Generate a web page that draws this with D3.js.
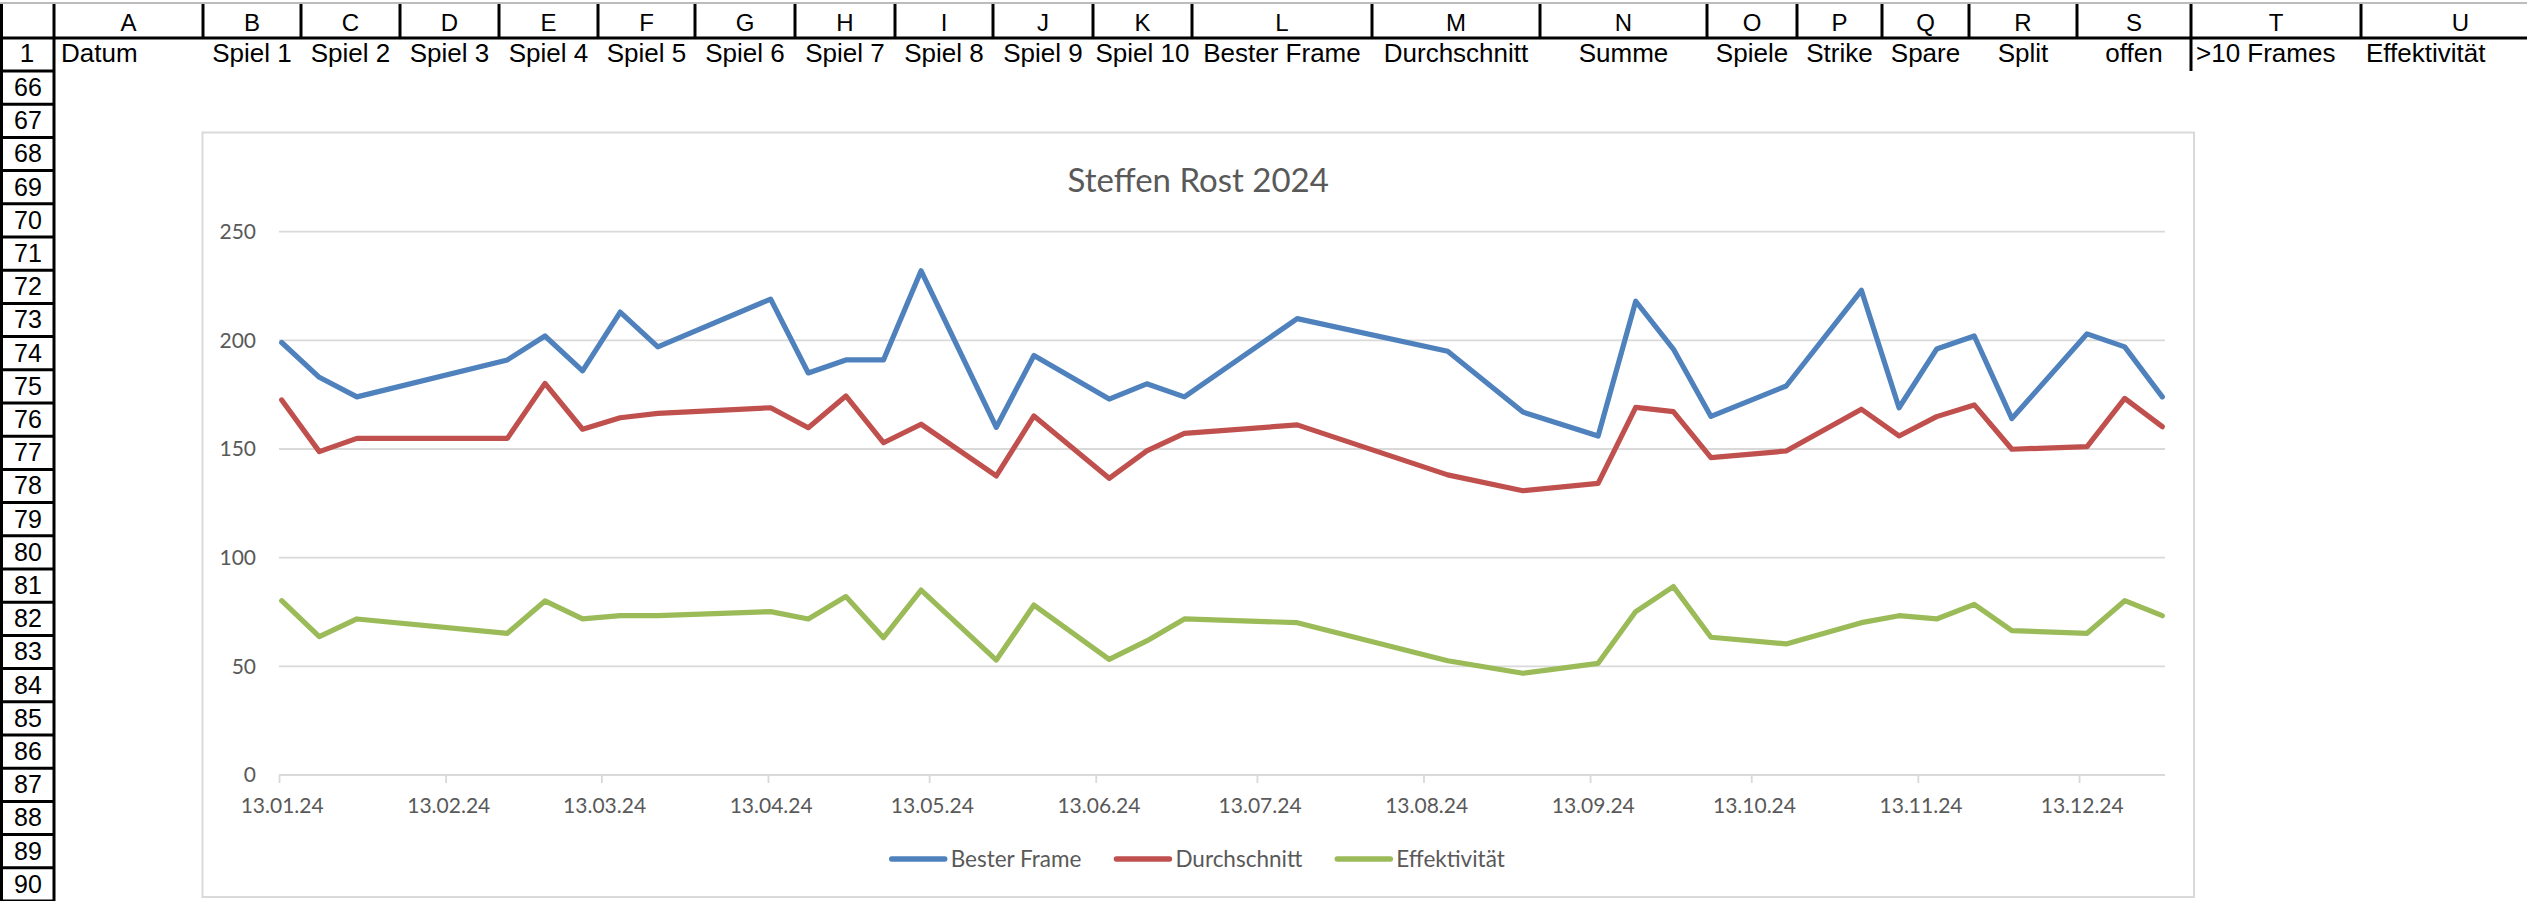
<!DOCTYPE html>
<html>
<head>
<meta charset="utf-8">
<script src="https://cdn.jsdelivr.net/npm/d3@7"></script>
<style>
  body { margin: 0; background: #fff; }
  svg { display: block; }
</style>
</head>
<body>
<div id="wrapper"></div>
<script>
// sheet content
const colLetters = ["A", "B", "C", "D", "E", "F", "G", "H", "I", "J", "K",
  "L", "M", "N", "O", "P", "Q", "R", "S", "T", "U"]
const colHeaders = ["Datum", "Spiel 1", "Spiel 2", "Spiel 3", "Spiel 4", "Spiel 5",
  "Spiel 6", "Spiel 7", "Spiel 8", "Spiel 9", "Spiel 10", "Bester Frame",
  "Durchschnitt", "Summe", "Spiele", "Strike", "Spare", "Split", "offen",
  ">10 Frames", "Effektivität"]
const rowNumbers = [66, 67, 68, 69, 70, 71, 72, 73, 74, 75, 76, 77, 78, 79, 80,
  81, 82, 83, 84, 85, 86, 87, 88, 89, 90]

// chart data (one row per bowling evening)
const chartTitle = "Steffen Rost 2024"
const gameDates = ["13.01.24", "20.01.24", "27.01.24", "24.02.24", "02.03.24",
  "09.03.24", "16.03.24", "23.03.24", "13.04.24", "20.04.24", "27.04.24",
  "04.05.24", "11.05.24", "25.05.24", "01.06.24", "15.06.24", "22.06.24",
  "29.06.24", "20.07.24", "17.08.24", "31.08.24", "14.09.24", "21.09.24",
  "28.09.24", "05.10.24", "19.10.24", "02.11.24", "09.11.24", "16.11.24",
  "23.11.24", "30.11.24", "14.12.24", "21.12.24", "28.12.24"]
const besterFrame = [199, 183, 174, 191, 202, 186, 213, 197, 219, 185, 191,
  191, 232, 160, 193, 173, 180, 174, 210, 195, 167, 156, 218, 196, 165, 179,
  223, 169, 196, 202, 164, 203, 197, 174]
const durchschnitt = [172.6, 148.8, 154.9, 154.9, 180.2, 159.1, 164.4, 166.4,
  169.0, 159.8, 174.4, 152.9, 161.4, 137.6, 165.2, 136.5, 149.1, 157.2, 161.1,
  138.1, 130.8, 134.2, 169.2, 167.2, 146.0, 149.1, 168.3, 156.0, 164.9, 170.3,
  149.9, 151.1, 173.3, 160.3]
const effektivitaet = [80.2, 63.7, 71.8, 65.2, 80.1, 71.8, 73.3, 73.3, 75.2,
  71.8, 82.1, 63.2, 85.1, 52.9, 78.2, 53.2, 61.7, 71.8, 70.1, 52.6, 46.8, 51.4,
  75.2, 86.7, 63.4, 60.3, 70.1, 73.3, 71.8, 78.5, 66.4, 65.2, 80.2, 73.3]
const seriesNames = ["Bester Frame", "Durchschnitt", "Effektivität"]
const seriesColors = ["#4f81bd", "#c0504d", "#9bbb59"]
const yTicks = [0, 50, 100, 150, 200, 250]
const xTickLabels = ["13.01.24", "13.02.24", "13.03.24", "13.04.24", "13.05.24",
  "13.06.24", "13.07.24", "13.08.24", "13.09.24", "13.10.24", "13.11.24",
  "13.12.24"]

// layout
const width = 2527
const height = 901
const colEdges = [54, 203, 301, 400, 499, 598, 695, 795, 895, 993, 1093, 1192,
  1372, 1540, 1707, 1797, 1882, 1969, 2077, 2191, 2361, 2560]
const colAlign = i => (i === 0 ? "left" : (i >= 19 ? "left" : "center"))
const headerTop = 4
const headerBottom = 38
const row1Bottom = 71
const rowH = 33.2
const sheetFont = "'Liberation Sans', Arial, sans-serif"
const chartFont = "Lato, 'Open Sans', sans-serif"
const textGrey = "#595959"
const gridGrey = "#d9d9d9"

const svg = d3.select("#wrapper")
  .append("svg")
    .attr("width", width)
    .attr("height", height)

svg.append("rect")
    .attr("width", width)
    .attr("height", height)
    .attr("fill", "#fff")

// ---- spreadsheet frame ----
const sheet = svg.append("g")

sheet.append("line")
    .attr("x1", 0).attr("x2", width)
    .attr("y1", 3).attr("y2", 3)
    .attr("stroke", "#a6a6a6")
    .attr("stroke-width", 1.5)

const edges = [1.5].concat(colEdges)
sheet.selectAll(".colsep")
  .data(edges)
  .join("line")
    .attr("x1", d => d).attr("x2", d => d)
    .attr("y1", headerTop).attr("y2", headerBottom)
    .attr("stroke", "#000")
    .attr("stroke-width", 3)

sheet.append("line")
    .attr("x1", 0).attr("x2", width)
    .attr("y1", headerBottom).attr("y2", headerBottom)
    .attr("stroke", "#000")
    .attr("stroke-width", 3)

// row label column
sheet.selectAll(".rowedge")
  .data([1.5, colEdges[0]])
  .join("line")
    .attr("x1", d => d).attr("x2", d => d)
    .attr("y1", headerBottom).attr("y2", height)
    .attr("stroke", "#000")
    .attr("stroke-width", 3)

const rowTops = rowNumbers.map((r, i) => row1Bottom + i * rowH)
sheet.selectAll(".rowsep")
  .data([row1Bottom].concat(rowTops.map(t => t + rowH)))
  .join("line")
    .attr("x1", 0).attr("x2", colEdges[0])
    .attr("y1", d => d).attr("y2", d => d)
    .attr("stroke", "#000")
    .attr("stroke-width", 3)

// border between S and T in row 1
sheet.append("line")
    .attr("x1", colEdges[19]).attr("x2", colEdges[19])
    .attr("y1", headerBottom).attr("y2", row1Bottom)
    .attr("stroke", "#000")
    .attr("stroke-width", 3)

sheet.selectAll(".colletter")
  .data(colLetters)
  .join("text")
    .attr("x", (d, i) => (colEdges[i] + colEdges[i + 1]) / 2)
    .attr("y", 31)
    .attr("text-anchor", "middle")
    .attr("font-family", sheetFont)
    .attr("font-size", 24)
    .attr("fill", "#000")
    .text(d => d)

sheet.selectAll(".colheader")
  .data(colHeaders)
  .join("text")
    .attr("x", (d, i) => colAlign(i) === "left"
      ? colEdges[i] + (i === 0 ? 7 : 5)
      : (colEdges[i] + colEdges[i + 1]) / 2)
    .attr("y", 62)
    .attr("text-anchor", (d, i) => colAlign(i) === "left" ? "start" : "middle")
    .attr("font-family", sheetFont)
    .attr("font-size", 26)
    .attr("fill", "#000")
    .text(d => d)

sheet.append("text")
    .attr("x", colEdges[0] / 2)
    .attr("y", 62)
    .attr("text-anchor", "middle")
    .attr("font-family", sheetFont)
    .attr("font-size", 26)
    .text("1")

sheet.selectAll(".rownum")
  .data(rowNumbers)
  .join("text")
    .attr("x", colEdges[0] / 2 + 1)
    .attr("y", (d, i) => rowTops[i] + 25)
    .attr("text-anchor", "middle")
    .attr("font-family", sheetFont)
    .attr("font-size", 25)
    .text(d => d)

// ---- chart ----
const chart = {
  x: 202.5, y: 132.5, width: 1991.5, height: 764.5,
  plotLeft: 279, plotRight: 2165, plotTop: 231.7, plotBottom: 775,
}

svg.append("rect")
    .attr("x", chart.x)
    .attr("y", chart.y)
    .attr("width", chart.width)
    .attr("height", chart.height)
    .attr("fill", "#fff")
    .attr("stroke", gridGrey)
    .attr("stroke-width", 2)

const parseDate = d3.utcParse("%d.%m.%y")
const dates = gameDates.map(parseDate)
const tickDates = xTickLabels.map(parseDate)

const xScale = d3.scaleUtc()
    .domain([dates[0], d3.utcDay.offset(dates[dates.length - 1], 1)])
    .range([chart.plotLeft, chart.plotRight])
// Excel centres each point within its day slot
const halfDay = (xScale(d3.utcDay.offset(dates[0], 1)) - xScale(dates[0])) / 2

const yScale = d3.scaleLinear()
    .domain([0, 250])
    .range([chart.plotBottom, chart.plotTop])

svg.append("text")
    .attr("x", chart.x + chart.width / 2)
    .attr("y", 192)
    .attr("text-anchor", "middle")
    .attr("font-family", chartFont)
    .attr("font-size", 33)
    .attr("fill", textGrey)
    .text(chartTitle)

// gridlines
svg.append("g")
  .selectAll("line")
  .data(yTicks.filter(t => t > 0))
  .join("line")
    .attr("x1", chart.plotLeft).attr("x2", chart.plotRight)
    .attr("y1", d => yScale(d)).attr("y2", d => yScale(d))
    .attr("stroke", gridGrey)
    .attr("stroke-width", 1.8)

const yAxis = svg.append("g")
    .attr("transform", `translate(${chart.plotLeft},0)`)
    .call(d3.axisLeft(yScale).tickValues(yTicks).tickSize(0).tickPadding(23))
yAxis.select(".domain").remove()
yAxis.selectAll("text")
    .attr("font-family", chartFont)
    .attr("font-size", 21)
    .attr("fill", textGrey)

const xAxis = svg.append("g")
    .attr("transform", `translate(0,${chart.plotBottom})`)
    .call(d3.axisBottom(xScale)
      .tickValues(tickDates)
      .tickSize(8)
      .tickPadding(15)
      .tickFormat((d, i) => xTickLabels[i]))
xAxis.select(".domain")
    .attr("d", `M${chart.plotLeft},0H${chart.plotRight}`)
    .attr("stroke", gridGrey)
    .attr("stroke-width", 1.8)
xAxis.selectAll(".tick line")
    .attr("stroke", gridGrey)
    .attr("stroke-width", 1.8)
xAxis.selectAll(".tick text")
    .attr("x", halfDay)
    .attr("font-family", chartFont)
    .attr("font-size", 21)
    .attr("fill", textGrey)

// series
const series = [besterFrame, durchschnitt, effektivitaet].map((values, i) => ({
  name: seriesNames[i],
  color: seriesColors[i],
  points: values.map((v, j) => ({ date: dates[j], value: v })),
}))

const lineGenerator = d3.line()
    .x(d => xScale(d.date) + halfDay)
    .y(d => yScale(d.value))

svg.append("g")
  .selectAll("path")
  .data(series)
  .join("path")
    .attr("d", d => lineGenerator(d.points))
    .attr("fill", "none")
    .attr("stroke", d => d.color)
    .attr("stroke-width", 5.2)
    .attr("stroke-linejoin", "round")
    .attr("stroke-linecap", "round")

// legend
const legendY = 859
const swatch = 53
const legend = svg.append("g")
const items = legend.selectAll("g")
  .data(series)
  .join("g")
items.append("line")
    .attr("x1", 0).attr("x2", swatch)
    .attr("y1", legendY).attr("y2", legendY)
    .attr("stroke", d => d.color)
    .attr("stroke-width", 5.5)
    .attr("stroke-linecap", "round")
items.append("text")
    .attr("x", swatch + 6)
    .attr("y", legendY + 8)
    .attr("font-family", chartFont)
    .attr("font-size", 22.5)
    .attr("fill", textGrey)
    .text(d => d.name)

let offset = 0
const itemOffsets = []
items.each(function () {
  itemOffsets.push(offset)
  offset += swatch + 6 + this.querySelector("text").getComputedTextLength() + 35
})
const legendWidth = offset - 35
const legendStart = chart.x + chart.width / 2 - legendWidth / 2
items.attr("transform", (d, i) => `translate(${legendStart + itemOffsets[i]},0)`)
</script>
</body>
</html>
